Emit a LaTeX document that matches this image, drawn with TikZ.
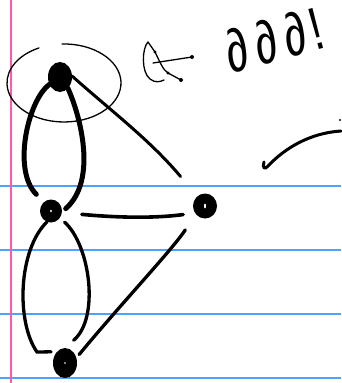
\documentclass[tikz,border=0pt]{standalone}
\usepackage{fontspec}
\newfontfamily\sketchfont[FakeStretch=0.75]{Liberation Sans}
\usepackage{xcolor}
\definecolor{marginPink}{HTML}{FF5AA8}
\definecolor{ruleBlue}{HTML}{4BA2FF}
\definecolor{inkBlack}{HTML}{000000}
\usepackage{tikz}
\usetikzlibrary{
    shapes.geometric,
    calc
}
\tikzset{
    % Ink blobs for the vertices
    vertex/.style={
        ellipse,
        fill=inkBlack,
        inner sep=0pt,
        outer sep=0pt,
    },
    % Little gaps left in the ink
    hole/.style={
        fill=white,
    },
    % Heavy pen strokes
    heavy edge/.style={
        draw=inkBlack,
        line width=5pt,
        line cap=round,
    },
    % Normal pen strokes
    ink edge/.style={
        draw=inkBlack,
        line width=3.3pt,
        line cap=round,
    },
    % Fine pen strokes
    thin ink/.style={
        draw=inkBlack,
        line width=1.3pt,
        line cap=round,
        line join=round,
    },
    % Paper lines
    paper rule/.style={
        draw=ruleBlue,
        line width=1.2pt,
    },
    margin rule/.style={
        draw=marginPink,
        line width=1.6pt,
    },
}

\begin{document}
\begin{tikzpicture}[x=1pt, y=-1pt]
    \useasboundingbox[fill=white] (0,0) rectangle (341,383);
    % notebook paper
    \foreach \y in {186,250,314,378}
        \draw[paper rule] (0,\y) -- (341,\y);
    \draw[margin rule] (11,0) -- (11,383);

    \node (apex) [vertex, minimum width=24pt, minimum height=30pt] at (60,77) {};
    \node (hub) [vertex, minimum width=22pt, minimum height=23pt] at (51,211) {};
    \node (side) [vertex, minimum width=24pt, minimum height=25pt] at (205,206) {};
    \node (base) [vertex, minimum width=24pt, minimum height=30pt] at (65,363) {};
    \fill[hole] (hub) ellipse[x radius=1, y radius=1.4];
    \fill[hole] (side) ellipse[x radius=1, y radius=2.5];
    \fill[hole] (base) circle[radius=0.9];

    % ring round the top vertex
    \draw[thin ink] (62,44) arc[start angle=-92, end angle=244, x radius=57, y radius=39];

    \draw[heavy edge, shorten >=11pt] (apex.215) .. controls (28,100) and (12,170) .. (hub.128);
    \draw[heavy edge, shorten >=5pt] (apex.-55) .. controls (80,115) and (98,180) .. (hub.355);
    \draw[ink edge, line width=3pt, shorten >=26pt] (apex.5) .. controls (110,110) and (150,140) .. (side.129);
    \draw[ink edge, line width=3.6pt, shorten <=20pt, shorten >=12pt] (hub.-8) .. controls (110,217) and (150,219) .. (side.215);
    \draw[ink edge, shorten <=19pt, shorten >=4.5pt] (side.221) .. controls (172,250) and (120,305) .. (base.24);
    \draw[ink edge, shorten >=6pt] (hub.250) .. controls (18,250) and (16,322) .. (37,352) -- (base.125);
    \draw[ink edge, shorten <=6.5pt, shorten >=12pt] (hub.-38) .. controls (90,245) and (100,318) .. (base.92);

    % little doodle and the note
    \draw[thin ink] (155,52) -- (148,42) .. controls (142,48) and (141,72) .. (150,79) .. controls (155,83) and (160,82) .. (164,80);
    \draw[thin ink] (153,63) -- (192,57);
    \draw[thin ink] (155,52) .. controls (160,62) and (163,70) .. (168,73) -- (181,80);
    \fill[inkBlack] (192,57) circle[radius=2];
    \fill[inkBlack] (181,80) circle[radius=2];
    \fill[inkBlack] (168,73) circle[radius=1.6];
    \fill[inkBlack] (155,52) circle[radius=1.6];
    \node (note) [text=inkBlack, rotate=15, inner sep=0pt,
        font={\sketchfont\fontsize{60pt}{60pt}\selectfont}] at (274,40)
        {∂\hspace{8pt}∂\hspace{8pt}∂\hspace{5pt}!};

    % stroke running off the page
    \draw[ink edge, line width=3pt] (264,162) .. controls (262,168) and (265,170) .. (268,166)
        .. controls (285,148) and (310,133) .. (341,131);
    \fill[inkBlack] (340,120) circle[radius=1.2];
\end{tikzpicture}
\end{document}
